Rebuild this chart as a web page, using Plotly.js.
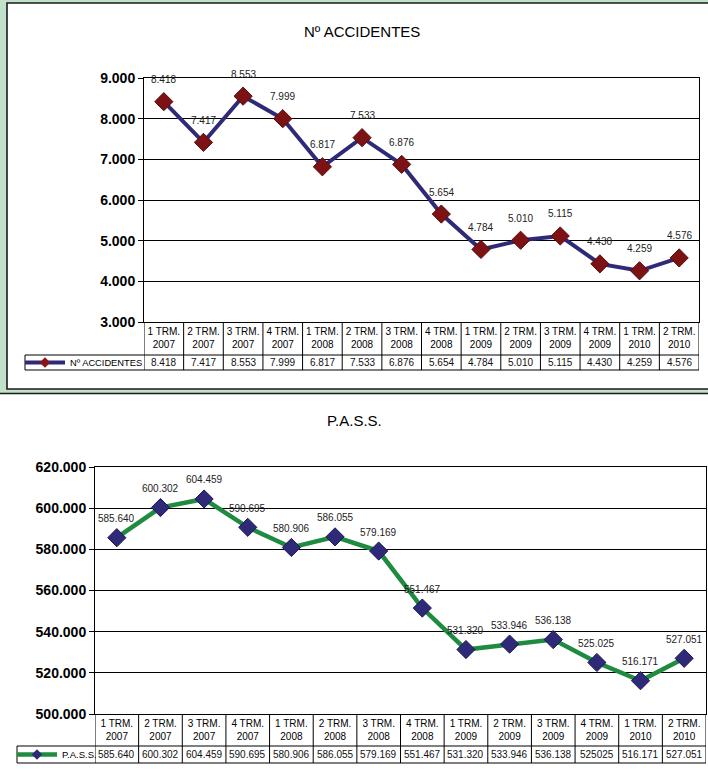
<!DOCTYPE html>
<html><head><meta charset="utf-8">
<script src="https://cdn.plot.ly/plotly-3.0.1.min.js"></script>
<style>html,body{margin:0;padding:0;background:#fff}#chart{width:708px;height:775px}</style>
</head><body><div id="chart"></div>
<script>
// ---- data ----
const categories = ["1 TRM.<br>2007","2 TRM.<br>2007","3 TRM.<br>2007","4 TRM.<br>2007",
  "1 TRM.<br>2008","2 TRM.<br>2008","3 TRM.<br>2008","4 TRM.<br>2008",
  "1 TRM.<br>2009","2 TRM.<br>2009","3 TRM.<br>2009","4 TRM.<br>2009",
  "1 TRM.<br>2010","2 TRM.<br>2010"];
const accidentes = [8418,7417,8553,7999,6817,7533,6876,5654,4784,5010,5115,4430,4259,4576];
const pass = [585640,600302,604459,590695,580906,586055,579169,551467,531320,533946,536138,525025,516171,527051];
const accidentesTable = ["8.418","7.417","8.553","7.999","6.817","7.533","6.876","5.654","4.784","5.010","5.115","4.430","4.259","4.576"];
const passTable = ["585.640","600.302","604.459","590.695","580.906","586.055","579.169","551.467","531.320","533.946","536.138","525025","516.171","527.051"];
const accTicks = [3000,4000,5000,6000,7000,8000,9000];
const passTicks = [500000,520000,540000,560000,580000,600000,620000];
const accName = "Nº ACCIDENTES";
const passName = "P.A.S.S.";

// ---- helpers ----
const W = 708, H = 775;
const px = x => x / W;
const py = y => 1 - y / H;
const FONT = "Arial, 'Liberation Sans', sans-serif";
const n = categories.length;

const accLine = {color: '#2f2a78', width: 4};
const passLine = {color: '#1f8b3f', width: 4.5};
const traces = [
  {x: categories, y: accidentes, name: accName, type: 'scatter', mode: 'lines+markers',
   xaxis: 'x', yaxis: 'y', showlegend: false, line: accLine,
   marker: {symbol: 'diamond', size: 14, color: '#7d1214', line: {color: '#5a0c0e', width: 1}}},
  {x: categories, y: pass, name: passName, type: 'scatter', mode: 'lines+markers',
   xaxis: 'x2', yaxis: 'y2', showlegend: false, line: passLine,
   marker: {symbol: 'diamond', size: 14, color: '#2e2a78', line: {color: '#1e1a58', width: 1}}},
  // legend-only entries (smaller legend symbol like the original)
  {x: [null], y: [null], name: accName, type: 'scatter', mode: 'lines+markers', xaxis: 'x', yaxis: 'y',
   legend: 'legend', line: accLine, marker: {symbol: 'diamond', size: 8, color: '#8b1416'}},
  {x: [null], y: [null], name: passName, type: 'scatter', mode: 'lines+markers', xaxis: 'x2', yaxis: 'y2',
   legend: 'legend2', line: passLine, marker: {symbol: 'diamond', size: 8, color: '#2e2a78'}}
];

const shapes = [];
const annotations = [];
// green frame for top chart
shapes.push({type:'rect', xref:'paper', yref:'paper', x0:0, x1:1, y0:py(394), y1:1,
  fillcolor:'#c2e1ca', line:{width:0}, layer:'below'});
shapes.push({type:'rect', xref:'paper', yref:'paper', x0:px(7), x1:px(712), y0:py(389), y1:py(3),
  fillcolor:'#ffffff', line:{color:'#1a1a1a', width:1.6}, layer:'below'});
shapes.push({type:'line', xref:'paper', yref:'paper', x0:0, x1:1, y0:py(393.5), y1:py(393.5),
  line:{color:'#1a1a1a', width:1.6}, layer:'below'});

function table(xref, yTop, yMid, yBot, legLeft, legRight, vals) {
  for (let i = 0; i <= n; i++) {
    shapes.push({type:'line', xref:xref, yref:'paper', x0:i-0.5, x1:i-0.5, y0:py(yTop), y1:py(yBot),
      line:{color:'#000', width:1}});
  }
  shapes.push({type:'line', xref:'paper', yref:'paper', x0:px(legLeft), x1:px(legRight), y0:py(yMid), y1:py(yMid), line:{color:'#000', width:1}});
  shapes.push({type:'line', xref:'paper', yref:'paper', x0:px(legLeft), x1:px(legRight), y0:py(yBot), y1:py(yBot), line:{color:'#000', width:1}});
  shapes.push({type:'line', xref:'paper', yref:'paper', x0:px(legLeft), x1:px(legLeft), y0:py(yMid), y1:py(yBot), line:{color:'#000', width:1}});
  vals.forEach((v, i) => annotations.push({x: categories[i], xref: xref, y: py((yMid+yBot)/2), yref:'paper',
    text: v, showarrow:false, yanchor:'middle', font:{family:FONT, size:10, color:'#111'}}));
}
table('x', 322, 355, 370, 25, 699, accidentesTable);
table('x2', 714, 746, 763, 17, 706, passTable);

// data labels
accidentes.forEach((v, i) => annotations.push({x: categories[i], y: v, xref:'x', yref:'y',
  text: accidentesTable[i], showarrow:false, yshift: 22, font:{family:FONT, size:10, color:'#222'}}));
pass.forEach((v, i) => annotations.push({x: categories[i], y: v, xref:'x2', yref:'y2',
  text: passTable[i] === "525025" ? "525.025" : passTable[i], showarrow:false, yshift: 19, font:{family:FONT, size:10, color:'#222'}}));

// titles
annotations.push({xref:'paper', yref:'paper', x:px(362), y:py(32), text:accName, showarrow:false,
  xanchor:'center', yanchor:'middle', font:{family:FONT, size:15, color:'#000'}});
annotations.push({xref:'paper', yref:'paper', x:px(355), y:py(420), text:passName, showarrow:false,
  xanchor:'center', yanchor:'middle', font:{family:FONT, size:15, color:'#000'}});

const xCommon = {type:'category', range:[-0.5, n-0.5], showline:true, mirror:true, linecolor:'#000', linewidth:1,
  showgrid:false, zeroline:false, ticks:'', tickfont:{family:FONT, size:10, color:'#000'}, fixedrange:true};
const yCommon = {showline:true, mirror:true, linecolor:'#000', linewidth:1, showgrid:true, gridcolor:'#000', gridwidth:1,
  zeroline:false, ticks:'outside', ticklen:5, tickcolor:'#000', tickformat:',.0f',
  tickfont:{family:FONT, size:14, color:'#000', weight:'bold'}, fixedrange:true};

const layout = {
  width: W, height: H, margin:{l:0, r:0, t:0, b:0},
  paper_bgcolor:'#fff', plot_bgcolor:'rgba(0,0,0,0)',
  separators: ',.',
  font:{family:FONT},
  showlegend:true,
  xaxis: Object.assign({}, xCommon, {domain:[px(144), px(699)], anchor:'y'}),
  yaxis: Object.assign({}, yCommon, {domain:[py(322), py(78)], range:[3000, 9000], tickvals: accTicks, anchor:'x'}),
  xaxis2: Object.assign({}, xCommon, {domain:[px(95), px(706)], anchor:'y2'}),
  yaxis2: Object.assign({}, yCommon, {domain:[py(714), py(467)], range:[500000, 620000], tickvals: passTicks, anchor:'x2'}),
  legend: {x:px(20), y:py(362.5), xanchor:'left', yanchor:'middle', bgcolor:'rgba(0,0,0,0)', borderwidth:0,
    font:{family:FONT, size:9.3, color:'#000'}, itemwidth:40},
  legend2: {x:px(12), y:py(754.5), xanchor:'left', yanchor:'middle', bgcolor:'rgba(0,0,0,0)', borderwidth:0,
    font:{family:FONT, size:9.5, color:'#000'}, itemwidth:40},
  shapes: shapes,
  annotations: annotations
};
Plotly.newPlot('chart', traces, layout, {displayModeBar:false, staticPlot:true});
</script></body></html>
